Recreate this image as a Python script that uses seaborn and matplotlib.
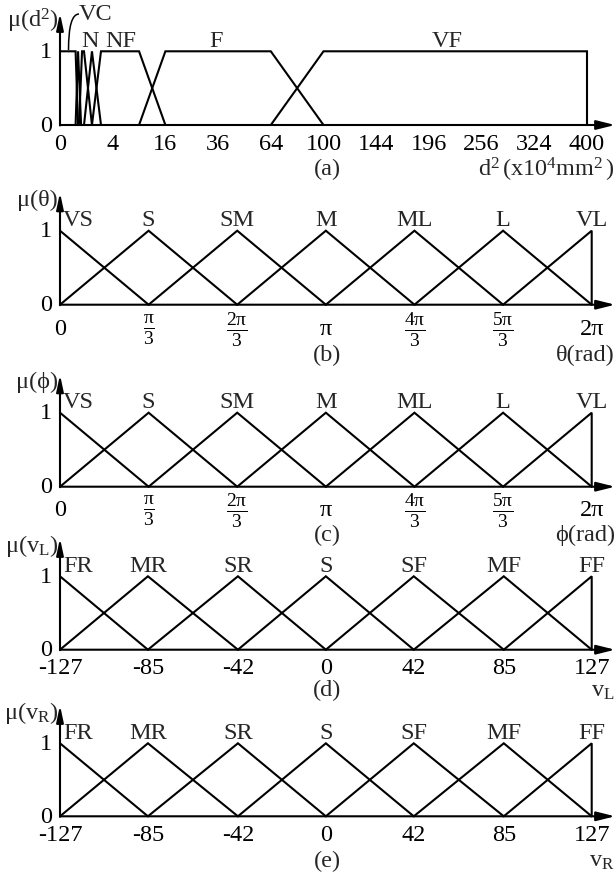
import numpy as np
import pandas as pd
import matplotlib
matplotlib.use("Agg")
import matplotlib.pyplot as plt
import matplotlib.transforms as mtransforms
import seaborn as sns
from matplotlib.path import Path
from matplotlib.patches import PathPatch, FancyArrowPatch

# ---------------- data ----------------
# (a) distance sets, breakpoints in d^2 (x10^4 mm^2)
d2_names = ["VC", "C", "N1", "N", "NF", "F", "VF"]
d2_x = [
    [0, 0.35, 0.47],
    [0.35, 0.47, 0.64],
    [0.52, 0.70, 0.83, 1.47],
    [0.83, 1.47, 2.42],
    [1.47, 2.42, 9, 16],
    [9, 16, 64, 100],
    [64, 100, 400, 400],
]
d2_mu = [
    [1, 1, 0],
    [0, 1, 0],
    [0, 1, 1, 0],
    [0, 1, 0],
    [0, 1, 1, 0],
    [0, 1, 1, 0],
    [0, 1, 1, 0],
]
d2_label_names = ["N", "NF", "F", "VF"]
d2_ticks = [0, 4, 16, 36, 64, 100, 144, 196, 256, 324, 400]

# (b), (c) angle sets
angle_names = ["VS", "S", "SM", "M", "ML", "L", "VL"]
angle_peaks = [0, np.pi / 3, 2 * np.pi / 3, np.pi, 4 * np.pi / 3, 5 * np.pi / 3, 2 * np.pi]
angle_ticklabels = ["0", r"$\frac{\mathrm{π}}{3}$", r"$\frac{2\mathrm{π}}{3}$", "π",
                    r"$\frac{4\mathrm{π}}{3}$", r"$\frac{5\mathrm{π}}{3}$", "2π"]

# (d), (e) wheel velocity sets
vel_names = ["FR", "MR", "SR", "S", "SF", "MF", "FF"]
vel_peaks = [-127, -85, -42, 0, 42, 85, 127]
vel_ticklabels = ["-127", "-85", "-42", "0", "42", "85", "127"]

# ---------------- style ----------------
sns.set_style("white")
plt.rcParams["font.family"] = ["Liberation Serif", "DejaVu Serif"]
plt.rcParams["mathtext.fontset"] = "custom"
plt.rcParams["mathtext.rm"] = "Liberation Serif"
plt.rcParams["mathtext.it"] = "Liberation Serif:italic"
plt.rcParams["mathtext.bf"] = "Liberation Serif:bold"

W, H = 616, 878
FS = 17.5
FS_FRAC = 20
LW = 1.5
PX = 0.72  # px -> pt

fig = plt.figure(figsize=(W / 100, H / 100), dpi=100)


def P(x, y):
    return (x / W, 1 - y / H)


def tri_sets(peaks):
    xs, ys = [], []
    n = len(peaks)
    for i, p in enumerate(peaks):
        if i == 0:
            xs.append([p, peaks[1]]); ys.append([1, 0])
        elif i == n - 1:
            xs.append([peaks[i - 1], p, p]); ys.append([0, 1, 0])
        else:
            xs.append([peaks[i - 1], p, peaks[i + 1]]); ys.append([0, 1, 0])
    return xs, ys


def frame(names, xs, ys):
    rows = []
    for nm, xx, yy in zip(names, xs, ys):
        for k, (a, b) in enumerate(zip(xx, yy)):
            rows.append({"set": nm, "order": k, "x": a, "y": b})
    return pd.DataFrame(rows)


ax_x, ax_y = tri_sets(angle_peaks)
vel_x, vel_y = tri_sets(vel_peaks)

panels = [
    dict(key="(a)", x1=587, y1=52.3, y0=126, off=18, sub_y=169,
         df=frame(d2_names, d2_x, d2_mu), xlim=(0, 400),
         ticks=d2_ticks, tlabels=[str(t) for t in d2_ticks],
         ylab=r"$\mathrm{μ(d^2)}$", unit=r"$\mathrm{d^2\,(x10^4mm^2\,)}$", unit_x=615, unit_y=170),
    dict(key="(b)", x1=591.7, y1=231.7, y0=305.7, off=24, sub_y=355,
         df=frame(angle_names, ax_x, ax_y), xlim=(0, 2 * np.pi),
         ticks=angle_peaks, tlabels=angle_ticklabels, names=angle_names,
         ylab="μ(θ)", unit="θ(rad)", unit_x=615, unit_y=355),
    dict(key="(c)", x1=591.7, y1=413.7, y0=487.7, off=23, sub_y=535,
         df=frame(angle_names, ax_x, ax_y), xlim=(0, 2 * np.pi),
         ticks=angle_peaks, tlabels=angle_ticklabels, names=angle_names,
         ylab="μ(ϕ)", unit="ϕ(rad)", unit_x=615, unit_y=535),
    dict(key="(d)", x1=591.7, y1=577.3, y0=650.7, off=18, sub_y=690,
         df=frame(vel_names, vel_x, vel_y), xlim=(-127, 127),
         ticks=vel_peaks, tlabels=vel_ticklabels, names=vel_names,
         ylab=r"$\mathrm{μ(v_L)}$", unit=r"$\mathrm{v_L}$", unit_x=615, unit_y=692),
    dict(key="(e)", x1=591.7, y1=744.3, y0=817.3, off=18, sub_y=861,
         df=frame(vel_names, vel_x, vel_y), xlim=(-127, 127),
         ticks=vel_peaks, tlabels=vel_ticklabels, names=vel_names,
         ylab=r"$\mathrm{μ(v_R)}$", unit=r"$\mathrm{v_R}$", unit_x=615, unit_y=862),
]

for pn in panels:
    x0 = 60
    ax = fig.add_axes([x0 / W, 1 - pn["y0"] / H, (pn["x1"] - x0) / W, (pn["y0"] - pn["y1"]) / H])
    sns.lineplot(data=pn["df"], x="x", y="y", units="set", estimator=None, sort=False,
                 color="black", lw=LW, ax=ax, legend=False)
    for ln in ax.lines:
        ln.set_clip_on(False)
        ln.set_solid_joinstyle("miter")
    if pn["key"] == "(a)":
        ax.set_xscale("function", functions=(np.sqrt, np.square))
    ax.set_xlim(*pn["xlim"])
    ax.set_ylim(0, 1)
    for s in ax.spines.values():
        s.set_visible(False)
    ax.set_xlabel(""); ax.set_ylabel("")
    ax.set_xticks(pn["ticks"], pn["tlabels"])
    ax.set_yticks([0, 1], ["0", "1"])
    ax.xaxis.set_minor_locator(matplotlib.ticker.NullLocator())
    ax.tick_params(axis="x", direction="out", length=4, width=1.2, labelsize=FS,
                   pad=pn["off"] * PX - 4, colors="black")
    ax.tick_params(axis="y", direction="out", length=5, width=1.2, labelsize=FS,
                   pad=0.5, colors="black")
    for lab in ax.get_xticklabels():
        lab.set_verticalalignment("center")
        if "frac" in lab.get_text():
            lab.set_fontsize(FS_FRAC)
    for lab in ax.get_yticklabels():
        lab.set_verticalalignment("center")
    ax.set_facecolor("none")

    # axis arrows
    fig.add_artist(FancyArrowPatch(P(60, pn["y0"]), P(615, pn["y0"]), transform=fig.transFigure,
                                   arrowstyle="-|>,head_length=0.8,head_width=0.2", mutation_scale=14,
                                   color="black", lw=LW, shrinkA=0, shrinkB=0))
    fig.add_artist(FancyArrowPatch(P(60, pn["y0"] + 0.5), P(60, pn["y1"] - 38), transform=fig.transFigure,
                                   arrowstyle="-|>,head_length=0.7,head_width=0.15", mutation_scale=14,
                                   color="black", lw=LW, shrinkA=0, shrinkB=0))

    # set labels
    if pn["key"] == "(a)":
        label_px = {"N": 90, "NF": 121, "F": 216, "VF": 447}
        for nm in d2_label_names:
            fig.text(*P(label_px[nm], pn["y1"] - 11), nm, ha="center", va="center", fontsize=FS)
        fig.text(*P(79, 15), "VC", ha="left", va="center", fontsize=FS)
        verts = [P(68.5, 51), P(68.5, 15), P(79, 15)]
        path = Path(verts, [Path.MOVETO, Path.CURVE3, Path.CURVE3])
        fig.add_artist(PathPatch(path, transform=fig.transFigure, fill=False, lw=1.1, color="black"))
    else:
        for i, (nm, pk) in enumerate(zip(pn["names"], pn["ticks"])):
            if i == 0:
                ax.annotate(nm, xy=(pk, 1), xytext=(3 * PX, 11 * PX), textcoords="offset points",
                            ha="left", va="center", fontsize=FS, annotation_clip=False)
            else:
                ax.annotate(nm, xy=(pk, 1), xytext=(0, 11 * PX), textcoords="offset points",
                            ha="center", va="center", fontsize=FS, annotation_clip=False)

    fig.text(*P(58, pn["y1"] - 31), pn["ylab"], ha="right", va="center", fontsize=FS)
    fig.text(*P(327, pn["sub_y"]), pn["key"], ha="center", va="center", fontsize=FS)
    fig.text(*P(pn["unit_x"], pn["unit_y"]), pn["unit"], ha="right", va="center", fontsize=FS)

fig.savefig("out.png", dpi=100)
